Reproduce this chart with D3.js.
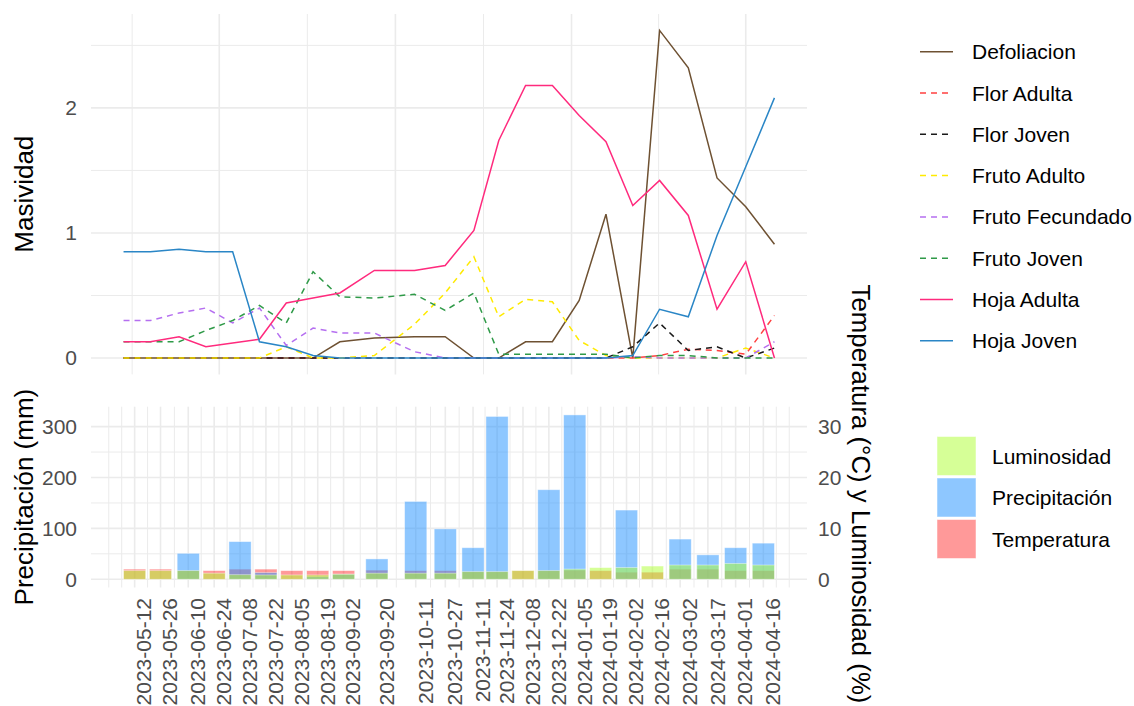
<!DOCTYPE html>
<html>
<head>
<meta charset="utf-8">
<script src="https://cdn.jsdelivr.net/npm/d3@7"></script>
<style>
  html, body { margin: 0; padding: 0; background: #fff; }
  svg { display: block; font-family: "Liberation Sans", Arial, sans-serif; }
</style>
</head>
<body>
<svg id="chart" width="1134" height="706"></svg>
<script>
// Fechas de muestreo
const fechas = ["2023-05-12","2023-05-26","2023-06-10","2023-06-24","2023-07-08","2023-07-22",
  "2023-08-05","2023-08-19","2023-09-02","2023-09-20","2023-10-11","2023-10-27","2023-11-11",
  "2023-11-24","2023-12-08","2023-12-22","2024-01-05","2024-01-19","2024-02-02","2024-02-16",
  "2024-03-02","2024-03-17","2024-04-01","2024-04-16"];

// Masividad por fenofase
const defoliacion    = [0,0,0,0,0,0,0,0,0.13,0.16,0.17,0.17,0,0,0.13,0.13,0.46,1.15,0,2.62,2.32,1.44,1.21,0.91];
const florAdulta     = [0,0,0,0,0,0,0,0,0,0,0,0,0,0,0,0,0,0,0,0.02,0.07,0.06,0.03,0.34];
const florJoven      = [0,0,0,0,0,0,0,0,0,0,0,0,0,0,0,0,0,0,0.09,0.28,0.06,0.09,0,0.08];
const frutoAdulto    = [0,0,0,0,0,0,0.09,0,0,0.02,0.27,0.52,0.81,0.33,0.47,0.45,0.14,0.02,0,0,0,0,0.08,0];
const frutoFecundado = [0.30,0.30,0.36,0.40,0.28,0.40,0.10,0.24,0.20,0.20,0.05,0,0,0,0,0,0,0,0.01,0,0,0,0,0.13];
const frutoJoven     = [0.13,0.13,0.13,0.22,0.30,0.42,0.28,0.69,0.49,0.48,0.51,0.38,0.52,0.03,0.03,0.03,0.03,0.03,0,0.02,0.02,0,0,0];
const hojaAdulta     = [0.13,0.13,0.17,0.09,0.12,0.15,0.44,0.48,0.52,0.70,0.70,0.74,1.02,1.74,2.18,2.18,1.94,1.73,1.22,1.42,1.14,0.39,0.77,0];
const hojaJoven      = [0.85,0.85,0.87,0.85,0.85,0.13,0.09,0.02,0,0,0,0,0,0,0,0,0,0,0.02,0.39,0.33,0.98,1.53,2.08];

// Clima
const precipitacion = [0,0,51,0,74,13,0,5,10,40,153,99,62,320,0,176,323,0,136,0,79,48,62,71];   // mm
const temperatura   = [2.0,2.0,1.7,1.7,2.0,2.0,1.7,1.7,1.7,1.8,1.7,1.7,1.5,1.5,1.7,1.7,1.8,1.7,1.4,1.4,2.0,2.0,1.7,1.7];
const luminosidad   = [1.7,1.7,1.7,1.2,0.9,0.85,0.85,0.85,1.0,1.2,1.2,1.2,1.5,1.5,1.7,1.7,2.0,2.3,2.3,2.6,2.8,2.8,3.1,2.8];

const seriesNombres = ["Defoliacion","Flor Adulta","Flor Joven","Fruto Adulto","Fruto Fecundado","Fruto Joven","Hoja Adulta","Hoja Joven"];
const seriesValores = [defoliacion, florAdulta, florJoven, frutoAdulto, frutoFecundado, frutoJoven, hojaAdulta, hojaJoven];
const seriesColores = ["#6e5132","#ff4040","#1a1a1a","#ffea00","#b56ff0","#2f9a48","#ff2a7d","#2a86c6"];
const seriesGuiones = [null,"6,5","6,5","6,5","6,5","6,5",null,null];

const climaNombres = ["Luminosidad","Precipitación","Temperatura"];
const climaColores = {"Luminosidad":"#adff2f","Precipitación":"#1e90ff","Temperatura":"#ff0000"};
const climaOpacidad = {"Luminosidad":0.5,"Precipitación":0.5,"Temperatura":0.4};

const yTicksTop = [0,1,2];
const yTicksBottom = [0,100,200,300];
const yTicksSec = [0,10,20,30];

const parse = d3.utcParse("%Y-%m-%d");
const dates = fechas.map(parse);
const DAY = 864e5;

const svg = d3.select("#chart");
const gridColor = "#ebebeb";
const textGrey = "#4d4d4d";

// ---------- panel superior ----------
const pTop = {l: 91, r: 807, t: 14, b: 374.4};
const d0 = dates[0], d1 = dates[dates.length - 1];
const span = d1 - d0;
const xTop = d3.scaleUtc()
  .domain([new Date(+d0 - 0.05 * span), new Date(+d1 + 0.05 * span)])
  .range([pTop.l, pTop.r]);
const maxTop = d3.max(seriesValores.flat());
const yTop = d3.scaleLinear()
  .domain([-0.05 * maxTop, maxTop * 1.05])
  .range([pTop.b, pTop.t]);

const gTop = svg.append("g");
// rejilla vertical: trimestres y puntos medios
const majorTop = d3.utcMonth.every(3).range(new Date(Date.UTC(2023,3,1)), new Date(Date.UTC(2024,6,2)));
const minorTop = [];
for (let i = 0; i < majorTop.length - 1; i++) minorTop.push(new Date((+majorTop[i] + +majorTop[i+1]) / 2));
const inTop = d => xTop(d) >= pTop.l && xTop(d) <= pTop.r;
gTop.selectAll(".vminor").data(minorTop.filter(inTop)).join("line")
  .attr("x1", d => xTop(d)).attr("x2", d => xTop(d)).attr("y1", pTop.t).attr("y2", pTop.b)
  .attr("stroke", gridColor).attr("stroke-width", 1);
gTop.selectAll(".vmajor").data(majorTop.filter(inTop)).join("line")
  .attr("x1", d => xTop(d)).attr("x2", d => xTop(d)).attr("y1", pTop.t).attr("y2", pTop.b)
  .attr("stroke", gridColor).attr("stroke-width", 1.6);
const minorYTop = [0.5,1.5,2.5];
gTop.selectAll(".hminor").data(minorYTop).join("line")
  .attr("x1", pTop.l).attr("x2", pTop.r).attr("y1", d => yTop(d)).attr("y2", d => yTop(d))
  .attr("stroke", gridColor).attr("stroke-width", 1);
gTop.selectAll(".hmajor").data(yTicksTop).join("line")
  .attr("x1", pTop.l).attr("x2", pTop.r).attr("y1", d => yTop(d)).attr("y2", d => yTop(d))
  .attr("stroke", gridColor).attr("stroke-width", 1.6);

const line = d3.line().x(d => xTop(d.fecha)).y(d => yTop(d.v));
seriesNombres.forEach((n, i) => {
  const pts = dates.map((f, j) => ({fecha: f, v: seriesValores[i][j]}));
  gTop.append("path").datum(pts)
    .attr("d", line).attr("fill", "none")
    .attr("stroke", seriesColores[i]).attr("stroke-width", 1.5)
    .attr("stroke-dasharray", seriesGuiones[i]);
});

// eje y izquierdo superior
const axTop = gTop.append("g").attr("transform", `translate(${pTop.l},0)`)
  .call(d3.axisLeft(yTop).tickValues(yTicksTop).tickSize(0).tickPadding(14).tickFormat(d3.format("d")));
axTop.select(".domain").remove();
axTop.selectAll("text").attr("font-size", 21).attr("fill", textGrey).attr("font-family", "Liberation Sans, Arial, sans-serif");

svg.append("text").attr("transform", `translate(33,${(pTop.t + pTop.b) / 2}) rotate(-90)`)
  .attr("text-anchor", "middle").attr("font-size", 26).attr("fill", "#000").text("Masividad");

// leyenda superior
const legTop = svg.append("g");
seriesNombres.forEach((n, i) => {
  const y = 51.7 + i * 41.3;
  legTop.append("line").attr("x1", 920).attr("x2", 953).attr("y1", y).attr("y2", y)
    .attr("stroke", seriesColores[i]).attr("stroke-width", 1.5)
    .attr("stroke-dasharray", seriesGuiones[i]);
  legTop.append("text").attr("x", 972).attr("y", y).attr("dy", "0.36em")
    .attr("font-size", 21).attr("fill", "#000").text(n);
});

// ---------- panel inferior ----------
const pBot = {l: 91, r: 807, t: 406.7, b: 587.5};
const half = 6 * DAY;
const spanB = (+d1 + half) - (+d0 - half);
const xBot = d3.scaleUtc()
  .domain([new Date(+d0 - half - 0.05 * spanB), new Date(+d1 + half + 0.05 * spanB)])
  .range([pBot.l, pBot.r]);
const escala = 10; // eje secundario = primario / 10
const maxBot = d3.max([...precipitacion, ...temperatura.map(v => v * escala), ...luminosidad.map(v => v * escala)]);
const yBot = d3.scaleLinear().domain([-0.05 * maxBot, maxBot * 1.05]).range([pBot.b, pBot.t]);
const ySec = d3.scaleLinear().domain(yBot.domain().map(v => v / escala)).range(yBot.range());

const gBot = svg.append("g");
// rejilla vertical: fechas y puntos medios
const step = +dates[1] - +dates[0];
const ext = [new Date(+d0 - step), ...dates, new Date(+d1 + step)];
const minorBot = [];
for (let i = 0; i < ext.length - 1; i++) minorBot.push(new Date((+ext[i] + +ext[i+1]) / 2));
minorBot.push(ext[0], ext[ext.length - 1]);
const inBot = d => xBot(d) >= pBot.l && xBot(d) <= pBot.r;
gBot.selectAll(".vminor").data(minorBot.filter(inBot)).join("line")
  .attr("x1", d => xBot(d)).attr("x2", d => xBot(d)).attr("y1", pBot.t).attr("y2", pBot.b)
  .attr("stroke", gridColor).attr("stroke-width", 1);
gBot.selectAll(".vmajor").data(dates).join("line")
  .attr("x1", d => xBot(d)).attr("x2", d => xBot(d)).attr("y1", pBot.t).attr("y2", pBot.b)
  .attr("stroke", gridColor).attr("stroke-width", 1.6);
gBot.selectAll(".hminor").data([50,150,250]).join("line")
  .attr("x1", pBot.l).attr("x2", pBot.r).attr("y1", d => yBot(d)).attr("y2", d => yBot(d))
  .attr("stroke", gridColor).attr("stroke-width", 1);
gBot.selectAll(".hmajor").data(yTicksBottom).join("line")
  .attr("x1", pBot.l).attr("x2", pBot.r).attr("y1", d => yBot(d)).attr("y2", d => yBot(d))
  .attr("stroke", gridColor).attr("stroke-width", 1.6);

// barras: temperatura, precipitación y luminosidad superpuestas
const capas = [
  {nombre: "Temperatura", valores: temperatura.map(v => v * escala)},
  {nombre: "Precipitación", valores: precipitacion},
  {nombre: "Luminosidad", valores: luminosidad.map(v => v * escala)}
];
capas.forEach(c => {
  gBot.append("g").selectAll("rect").data(dates.map((f, j) => ({fecha: f, v: c.valores[j]})))
    .join("rect")
    .attr("x", d => xBot(new Date(+d.fecha - half)))
    .attr("width", d => xBot(new Date(+d.fecha + half)) - xBot(new Date(+d.fecha - half)))
    .attr("y", d => yBot(Math.max(d.v, 0)))
    .attr("height", d => Math.abs(yBot(0) - yBot(d.v)))
    .attr("fill", climaColores[c.nombre]).attr("fill-opacity", climaOpacidad[c.nombre])
    .attr("stroke", "#fff").attr("stroke-opacity", 0.5).attr("stroke-width", 0.8)
    .style("display", d => d.v > 0 ? null : "none");
});

const axBot = gBot.append("g").attr("transform", `translate(${pBot.l},0)`)
  .call(d3.axisLeft(yBot).tickValues(yTicksBottom).tickSize(0).tickPadding(14));
axBot.select(".domain").remove();
axBot.selectAll("text").attr("font-size", 21).attr("fill", textGrey).attr("font-family", "Liberation Sans, Arial, sans-serif");

const axSec = gBot.append("g").attr("transform", `translate(${pBot.r},0)`)
  .call(d3.axisRight(ySec).tickValues(yTicksSec).tickSize(0).tickPadding(11));
axSec.select(".domain").remove();
axSec.selectAll("text").attr("font-size", 21).attr("fill", textGrey).attr("font-family", "Liberation Sans, Arial, sans-serif");

// etiquetas de fecha: el borde superior del texto girado queda sobre la marca
const fmt = d3.utcFormat("%Y-%m-%d");
gBot.append("g").selectAll("text").data(dates).join("text")
  .attr("transform", d => `translate(${xBot(d)},598) rotate(-90)`)
  .attr("text-anchor", "end").attr("dy", "0.8em")
  .attr("font-size", 21).attr("fill", textGrey).text(d => fmt(d));

svg.append("text").attr("transform", `translate(33,${(pBot.t + pBot.b) / 2}) rotate(-90)`)
  .attr("text-anchor", "middle").attr("font-size", 26).attr("fill", "#000").text("Precipitación (mm)");
svg.append("text").attr("transform", `translate(852,494) rotate(90)`)
  .attr("text-anchor", "middle").attr("font-size", 25.8).attr("fill", "#000").text("Temperatura (°C) y Luminosidad (%)");

// leyenda inferior
climaNombres.forEach((n, i) => {
  const y = 436.5 + i * 41.5;
  svg.append("rect").attr("x", 937).attr("y", y).attr("width", 39).attr("height", 39)
    .attr("fill", climaColores[n]).attr("fill-opacity", climaOpacidad[n])
    .attr("stroke", "#fff").attr("stroke-opacity", 0.5);
  svg.append("text").attr("x", 992).attr("y", y + 19.5).attr("dy", "0.36em")
    .attr("font-size", 21).attr("fill", "#000").text(n);
});
</script>
</body>
</html>
